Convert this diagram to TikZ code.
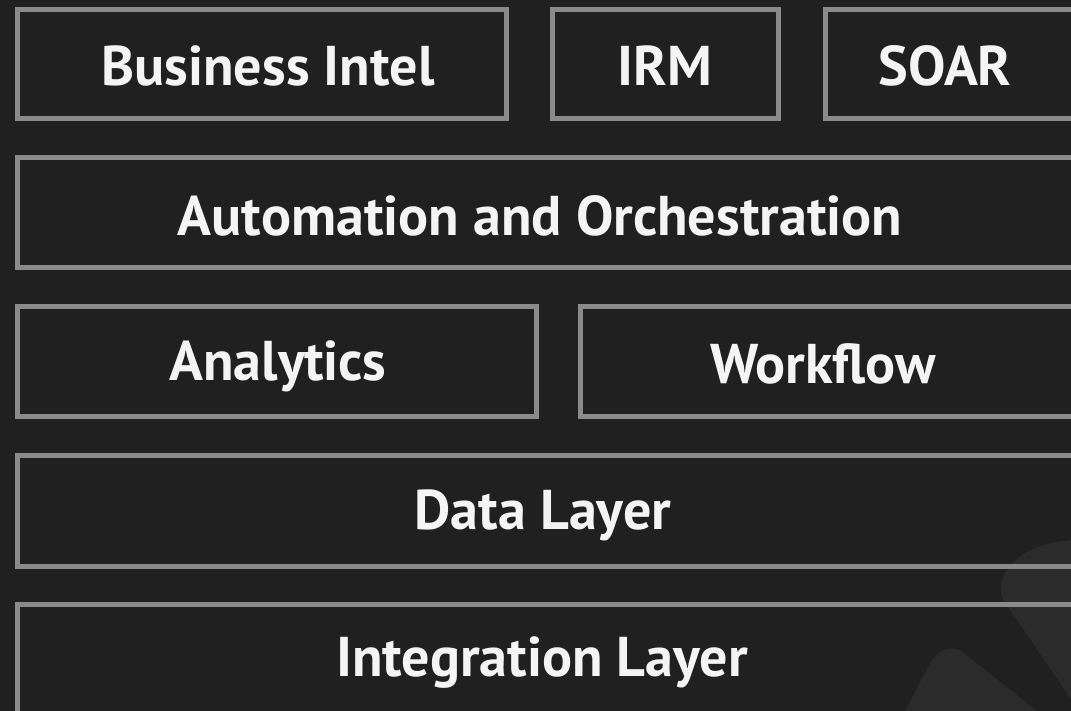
\documentclass[tikz,border=0pt]{standalone}
\usepackage{fontspec}
\setmainfont{PT Sans}
\begin{document}
\begin{tikzpicture}[x=1pt,y=-1pt,
  layerbox/.style={draw=boxgray,line width=5pt},
  layertext/.style={text=textwhite,font=\fontsize{56}{66}\selectfont\bfseries,inner sep=0pt,anchor=center}]
\definecolor{bgcol}{HTML}{202020}
\definecolor{boxgray}{HTML}{8A8A8A}
\definecolor{textwhite}{HTML}{F4F4F4}
\definecolor{shapecol}{HTML}{2B2B2B}
\useasboundingbox (0,0) rectangle (1071,710);
\begin{scope}
\clip (0,0) rectangle (1071,710);
\fill[bgcol] (-10,-10) rectangle (1081,720);
% faint background logo shapes
\fill[shapecol] (1075,540) .. controls (1030,542) and (995,565) .. (1002,598) -- (1075,705) -- cycle;
\fill[shapecol] (898,725) -- (930,663) .. controls (942,644) and (958,645) .. (970,658) -- (1055,725) -- cycle;
% boxes
\draw[layerbox] (17,9) rectangle (506,118);
\draw[layerbox] (552,9) rectangle (778,118);
\draw[layerbox] (825,9) rectangle (1090,118);
\draw[layerbox] (17,157) rectangle (1090,267);
\draw[layerbox] (17,306) rectangle (536,416);
\draw[layerbox] (580,306) rectangle (1090,416);
\draw[layerbox] (17,455) rectangle (1090,566);
\draw[layerbox] (17,604) rectangle (1090,730);
\end{scope}
\node[layertext] (bi) at (268,66) {Business Intel};
\node[layertext] (irm) at (665,66) {IRM};
\node[layertext] (soar) at (945,66) {SOAR};
\node[layertext] (auto) at (540,216) {Automation and Orchestration};
\node[layertext] (ana) at (278,366) {Analytics};
\node[layertext] (wf) at (823,364) {Workflow};
\node[layertext] (data) at (543,515) {Data Layer};
\node[layertext] (integ) at (542,663) {Integration Layer};
\end{tikzpicture}
\end{document}
